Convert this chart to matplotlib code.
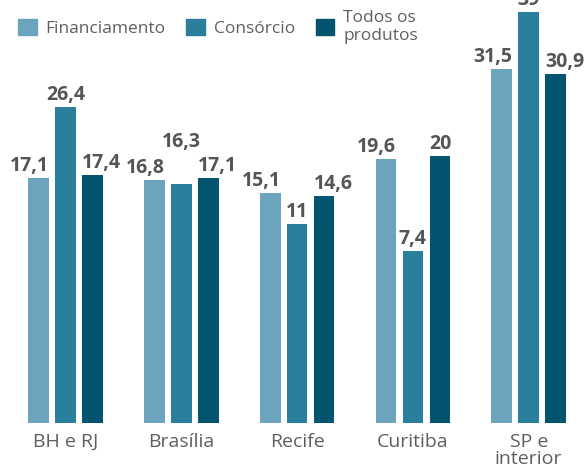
import numpy as np
import matplotlib
matplotlib.use("Agg")
import matplotlib.pyplot as plt
from matplotlib.patches import Patch

plt.rcParams['font.family'] = ['Open Sans', 'DejaVu Sans']

cidades = ["BH e RJ", "Brasília", "Recife", "Curitiba", "SP e\ninterior"]
series = ["Financiamento", "Consórcio", "Todos os\nprodutos"]
financiamento = [17.1, 16.8, 15.1, 19.6, 31.5]
consorcio = [26.4, 16.3, 11.0, 7.4, 39.0]
todos = [17.4, 17.1, 14.6, 20.0, 30.9]
rotulos = [["17,1", "16,8", "15,1", "19,6", "31,5"],
           ["26,4", "16,3", "11", "7,4", "39"],
           ["17,4", "17,1", "14,6", "20", "30,9"]]

cores = ["#6ba4bc", "#2a7f9d", "#03546f"]
TXT = "#555555"
BASE = -15.45          # o gráfico original não começa do zero
W, STEP = 0.179, 0.233

fig = plt.figure(figsize=(5.87, 4.73), dpi=100)
ax = fig.add_axes([0, 50 / 473, 1, 423 / 473])
x = np.arange(len(cidades))

# rótulos: 1ª série alinhada à direita da barra, 3ª à esquerda
aligns = [("right", W / 2), ("center", 0), ("left", -W / 2)]
for k, vals in enumerate([financiamento, consorcio, todos]):
    xs = x + (k - 1) * STEP
    v = np.array(vals)
    ax.bar(xs, v - BASE, bottom=BASE, width=W, color=cores[k])
    ha, dx = aligns[k]
    for i, (xi, vi) in enumerate(zip(xs, v)):
        off = 12
        if k == 1 and i == 1:
            off = 42  # 16,3 fica acima dos vizinhos
        ax.annotate(rotulos[k][i], (xi + dx, vi), xytext=(0, off * 0.72),
                    textcoords="offset points", ha=ha, va="center",
                    fontsize=14, fontweight="bold", color=TXT,
                    annotation_clip=False)

ax.set_xlim(-0.5656, 4.503)
ax.set_ylim(BASE, BASE + 423 / 7.54)
ax.set_xticks(x)
ax.set_xticklabels(cidades, fontsize=14, color="#5f5f5f", linespacing=0.92)
ax.tick_params(axis="x", length=0, pad=7)
ax.set_yticks([])
for s in ax.spines.values():
    s.set_visible(False)
ax.patch.set_alpha(0)

handles = [Patch(color=c) for c in cores]
fig.legend(handles, series, loc="center left", bbox_to_anchor=(2 / 587, 1 - 27 / 473),
           ncol=3, frameon=False, fontsize=12.5, handlelength=1.09, handleheight=1.09,
           handletextpad=0.5, columnspacing=1.19, labelcolor="#5f5f5f", labelspacing=0)

fig.savefig("out.png", dpi=100)
